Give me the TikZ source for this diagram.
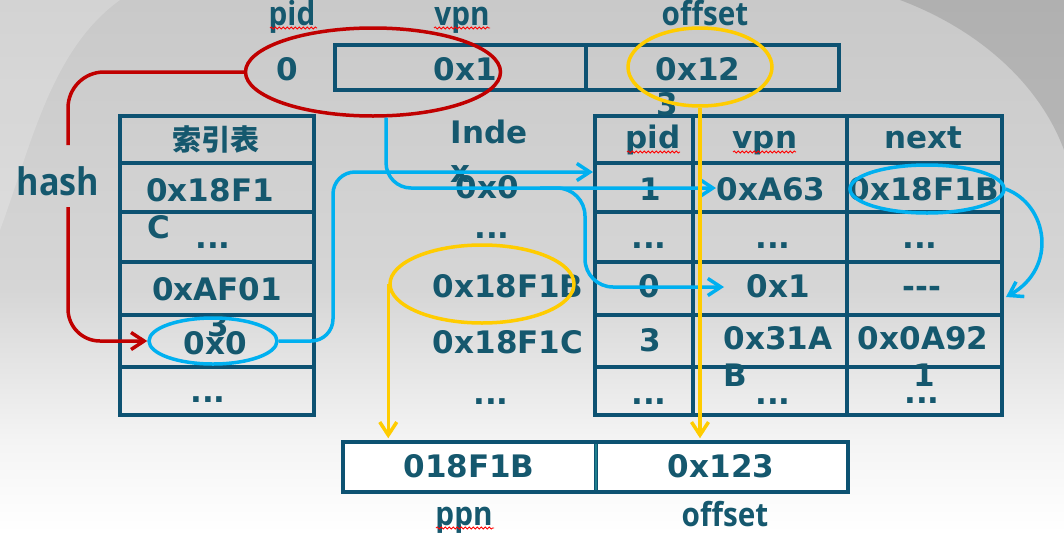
\documentclass[tikz,border=0pt]{standalone}
\usepackage{fontspec}
\usetikzlibrary{arrows.meta,shapes.geometric,decorations.pathmorphing}
\newfontfamily\dvf{DejaVu Sans}
\newfontfamily\osf{Open Sans}[FakeStretch=0.9]
\newfontfamily\cjkf{Noto Sans CJK SC}
\definecolor{tc}{HTML}{15586E}
\definecolor{lc}{HTML}{0D5272}
\definecolor{rd}{HTML}{C00000}
\definecolor{yl}{HTML}{FFCC00}
\definecolor{bl}{HTML}{00B0F0}
\definecolor{dvc}{HTML}{1F7F8C}
\definecolor{bgtop}{HTML}{C9C9C9}
\definecolor{bgmid}{HTML}{D6D6D6}
\definecolor{bglow}{HTML}{F4F4F4}
\tikzset{
 tx/.style={font=\dvf\bfseries\fontsize{31}{33}\selectfont, text=tc, anchor=base, inner sep=0pt},
 lb/.style={font=\osf\bfseries\fontsize{33}{35}\selectfont, text=tc, anchor=base, inner sep=0pt},
 lbbig/.style={font=\osf\bfseries\fontsize{38}{40}\selectfont, text=tc, anchor=base, inner sep=0pt},
 cj/.style={font=\cjkf\bfseries\fontsize{29}{31}\selectfont, text=tc, anchor=base, inner sep=0pt},
 tline/.style={draw=lc, line width=3.5pt},
 bcell/.style={draw=lc, line width=3.5pt, fill=white, minimum height=50pt, inner sep=0pt, rectangle},
 oval/.style={ellipse, inner sep=0pt, line width=3.5pt},
 arr/.style={-{Straight Barb[length=13pt,width=17pt]}},
 rline/.style={draw=rd, line width=3.5pt},
 bline/.style={draw=bl, line width=3.5pt},
 yline/.style={draw=yl, line width=3.5pt},
 wavy/.style={draw=red, line width=0.8pt, decorate, decoration={snake, amplitude=1.1pt, segment length=4pt}},
}
\begin{document}
\begin{tikzpicture}[x=1pt,y=-1pt]
\useasboundingbox (0,0) rectangle (1064,533);
% background
\shade[top color=bgtop, bottom color=bgmid] (0,0) rectangle (1064,291);
\shade[top color=bgmid, bottom color=bglow] (0,290) rectangle (1064,441);
\shade[top color=bglow, bottom color=white] (0,440) rectangle (1064,533);
\fill[black, opacity=0.12] (900,0) .. controls (980,30) and (1040,85) .. (1064,150) -- (1064,0) -- cycle;
\fill[white, opacity=0.2] (0,0) -- (120,0) .. controls (50,50) and (30,150) .. (0,230) -- cycle;

% top box
\draw[tline] (335,45) rectangle (839,90);
\draw[tline] (586,45) -- (586,90);
% left table
\draw[tline] (120,116) rectangle (314,415);
\foreach \yy in {163,212,262,315,367} \draw[tline] (120,\yy) -- (314,\yy);
% right table
\draw[tline] (595,116) rectangle (1002,415);
\foreach \yy in {163,212,262,315,367} \draw[tline] (595,\yy) -- (1002,\yy);
\draw[tline] (693,116) -- (693,415);
\draw[tline] (847,116) -- (847,415);
% bottom box
\node[bcell, minimum width=253pt] (ppnc) at (469.5,467) {};
\node[bcell, minimum width=252pt] (offc) at (722,467) {};
\draw[draw=dvc, line width=2.5pt] (596,444) -- (596,490);

% top labels
\node[lb] (lpid) at (292,25) {pid};
\node[lb] (lvpn) at (462,25) {vpn};
\node[lb] (loff) at (705,25) {offset};
\node[tx] (tpid) at (287,80) {0};
\node[tx] (tvpn) at (465,80) {0x1};
\node[tx] (toff) at (698,80) {0x12};
\node[tx] (toff3) at (667,115) {3};
\node[lbbig] (hash) at (58,195) {hash};

% left table text
\node[cj] (lhead) at (216,150) {索引表};
\node[tx] (l1) at (210,201) {0x18F1};
\node[tx] (l1b) at (159,238) {C};
\node[tx] (l2) at (213,248) {...};
\node[tx] (l3) at (217,300) {0xAF01};
\node[tx] (l3b) at (218,336) {3};
\node[tx] (l4) at (215,354) {0x0};
\node[tx] (l5) at (208,402) {...};

% middle column
\node[tx] (m0) at (489,143) {Inde};
\node[tx] (m0b) at (460,182) {x};
\node[tx] (m1) at (487,198) {0x0};
\node[tx] (m2) at (492,238) {...};
\node[tx] (m3) at (508,297) {0x18F1B};
\node[tx] (m4) at (508,353) {0x18F1C};
\node[tx] (m5) at (491,404) {...};

% right table
\node[tx] (hpid) at (653,148) {pid};
\node[tx] (hvpn) at (765,148) {vpn};
\node[tx] (hnext) at (923,148) {next};
\node[tx] (r1a) at (650,200) {1};
\node[tx] (r1b) at (771,200) {0xA63};
\node[tx] (r1c) at (924,200) {0x18F1B};
\node[tx] (r2a) at (649,248) {...};
\node[tx] (r2b) at (773,248) {...};
\node[tx] (r2c) at (920,248) {...};
\node[tx] (r3a) at (649,297) {0};
\node[tx] (r3b) at (778,297) {0x1};
\node[tx] (r3c) at (922,297) {---};
\node[tx] (r4a) at (650,351) {3};
\node[tx] (r4b) at (778,349) {0x31A};
\node[tx] (r4c) at (923,349) {0x0A92};
\node[tx] (r4bb) at (735,386) {B};
\node[tx] (r4cb) at (924,386) {1};
\node[tx] (r5a) at (649,404) {...};
\node[tx] (r5b) at (773,404) {...};
\node[tx] (r5c) at (922,403) {...};

% bottom texts
\node[tx] (bppn) at (469,477) {018F1B};
\node[tx] (boff) at (721,477) {0x123};
\node[lb] (lppn) at (464,525) {ppn};
\node[lb] (loff2) at (725,526) {offset};

% wavy underlines
\draw[wavy] (270,28) -- (317,28);
\draw[wavy] (434,28) -- (490,28);
\draw[wavy] (627,152) -- (680,152);
\draw[wavy] (733,152) -- (796,152);
\draw[wavy] (436,528) -- (494,528);

% ovals
\node[oval, draw=rd, minimum width=255pt, minimum height=88pt] (redell) at (373,72) {};
\node[oval, draw=yl, minimum width=144pt, minimum height=78pt] (yel1) at (700,67) {};
\node[oval, draw=yl, minimum width=184pt, minimum height=78pt] (yel2) at (482,284) {};
\node[oval, draw=bl, minimum width=128pt, minimum height=46pt] (b0) at (213,341) {};
\node[oval, draw=bl, minimum width=154pt, minimum height=48pt] (nxell) at (927,189) {};

% coordinates
\coordinate (hashtop) at (68,145);
\coordinate (hashbot) at (68,207);
\coordinate (rtA) at (593,172);
\coordinate (vA63) at (716,188);
\coordinate (brC) at (540,188);
\coordinate (v01) at (724,287);
\coordinate (v3) at (1006,297);

% red connector
\draw[rline, rounded corners=36pt] (redell.west) -| (hashtop);
\draw[rline, arr, rounded corners=32pt] (hashbot) |- (b0.west);
% blue connectors
\draw[bline, arr, rounded corners=22pt] (b0.east) -- (333,341) -- (333,172) -- (rtA);
\draw[bline, arr, rounded corners=25pt] (redell.286) |- (vA63);
\draw[bline, arr, rounded corners=28pt] (brC) -- (585,188) -- (585,287) -- (v01);
\draw[bline, arr] (nxell.east) .. controls (1048,205) and (1058,268) .. (v3);
% yellow connectors
\draw[yline, arr, shorten >=2pt] (yel1.south) -- (yel1.south |- offc.north);
\draw[yline, arr, shorten >=2pt] (yel2.west) -- (yel2.west |- ppnc.north);
\end{tikzpicture}
\end{document}
